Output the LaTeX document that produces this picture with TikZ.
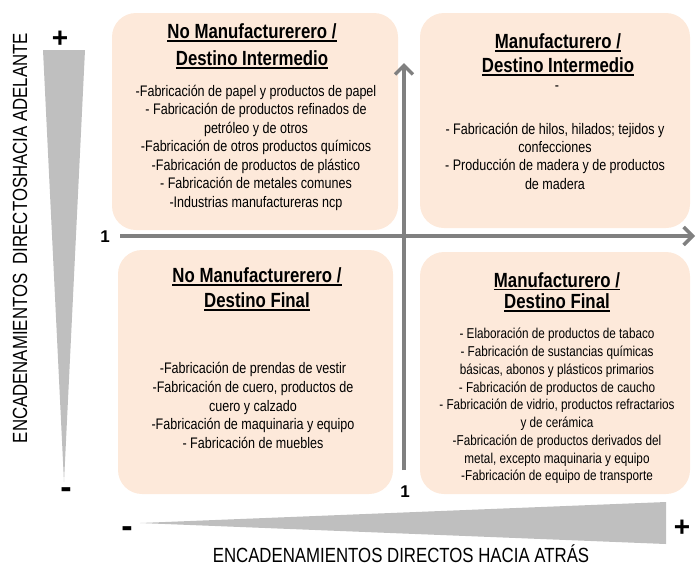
\documentclass[tikz,border=0pt]{standalone}
\usepackage{fontspec}
\setmainfont{Liberation Sans}
\newfontfamily\nf[FakeStretch=0.82]{Liberation Sans}
\usetikzlibrary{arrows.meta}
\definecolor{boxfill}{HTML}{FDE9DA}
\definecolor{axisgray}{HTML}{808080}
\definecolor{wedgegray}{HTML}{BFBFBF}
\newcommand\myul[1]{\setbox0\hbox{#1}\rlap{\rule[-3pt]{\wd0}{1.6pt}}\box0}
\begin{document}
\begin{tikzpicture}[x=1pt,y=-1pt,
  qbox/.style={fill=boxfill, draw=none, rounded corners=24pt, inner sep=0},
  titletext/.style={font=\nf\bfseries\fontsize{20.5}{#1}\selectfont, align=center, inner sep=0},
  listtext/.style={font=\nf\fontsize{15.3}{#1}\selectfont, align=center, inner sep=0},
  listsmall/.style={font=\nf\fontsize{14.3}{#1}\selectfont, align=center, inner sep=0},
  axis/.style={draw=axisgray, line width=3.5pt, -{Straight Barb[length=9pt,width=18pt]}},
  plussign/.style={font=\bfseries\fontsize{28}{28}\selectfont, inner sep=0},
  minussign/.style={font=\bfseries\fontsize{34}{34}\selectfont, inner sep=0},
  one/.style={font=\bfseries\fontsize{17}{17}\selectfont, inner sep=0},
  axlabel/.style={font=\nf\fontsize{20.5}{20.5}\selectfont, inner sep=0},
  wedge/.style={fill=wedgegray, draw=none}]
\useasboundingbox (0,0) rectangle (696,566);

% quadrant boxes
\node[qbox, minimum width=286pt, minimum height=217pt] (b1) at (255,121.5) {};
\node[qbox, minimum width=270pt, minimum height=215pt] (b2) at (555,120.5) {};
\node[qbox, minimum width=275pt, minimum height=244pt] (b3) at (255.5,372) {};
\node[qbox, minimum width=270pt, minimum height=242pt] (b4) at (555,373) {};

% axes
\coordinate (hs) at (120,236);
\coordinate (he) at (695,236);
\coordinate (vs) at (404,470);
\coordinate (ve) at (404,63);
\draw[axis] (hs) -- (he);
\draw[axis] (vs) -- (ve);
\node[one] (one1) at (105,237) {1};
\node[one] (one2) at (405,492) {1};

% box 1
\node[titletext=27] (t1) at (252,46.5) {\myul{No Manufacturerero /}\\\myul{Destino Intermedio}};
\node[listtext=18.5] (l1) at (256,147.5) {-Fabricación de papel y productos de papel\\
- Fabricación de productos refinados de\\
petróleo y de otros\\
-Fabricación de otros productos químicos\\
-Fabricación de productos de plástico\\
- Fabricación de metales comunes\\
-Industrias manufactureras ncp};

% box 2
\node[titletext=24] (t2) at (558,55) {\myul{Manufacturero /}\\\myul{Destino Intermedio}};
\node[listtext=18.5] (d2) at (557,88) {-};
\node[listtext=18.3] (l2) at (555,156) {- Fabricación de hilos, hilados; tejidos y\\
confecciones\\
- Producción de madera y de productos\\
de madera};

% box 3
\node[titletext=25] (t3) at (257,289.5) {\myul{No Manufacturerero /}\\\myul{Destino Final}};
\node[listtext=18.75] (l3) at (253,405.6) {-Fabricación de prendas de vestir\\
-Fabricación de cuero, productos de\\
cuero y calzado\\
-Fabricación de maquinaria y equipo\\
- Fabricación de muebles};

% box 4
\node[titletext=21.5] (t4) at (557,292) {\myul{Manufacturero /}\\\myul{Destino Final}};
\node[listsmall=17.75] (l4) at (557,406) {- Elaboración de productos de tabaco\\
- Fabricación de sustancias químicas\\
básicas, abonos y plásticos primarios\\
- Fabricación de productos de caucho\\
- Fabricación de vidrio, productos refractarios\\
y de cerámica\\
-Fabricación de productos derivados del\\
metal, excepto maquinaria y equipo\\
-Fabricación de equipo de transporte};

% left wedge (forward linkages)
\path[wedge] (43,50) -- (85,50) -- (64,482) -- cycle;
\node[plussign] (lp) at (60,39) {+};
\node[minussign] (lm) at (66,493) {-};
\node[axlabel, rotate=90] (lab1) at (20,238) {ENCADENAMIENTOS\ \ DIRECTOSHACIA ADELANTE};

% bottom wedge (backward linkages)
\path[wedge] (140,523) -- (666,502) -- (666,544) -- cycle;
\node[minussign] (bm) at (127,532) {-};
\node[plussign] (bp) at (682,528) {+};
\node[axlabel] (lab2) at (401,554) {ENCADENAMIENTOS DIRECTOS HACIA ATRÁS};
\end{tikzpicture}
\end{document}
